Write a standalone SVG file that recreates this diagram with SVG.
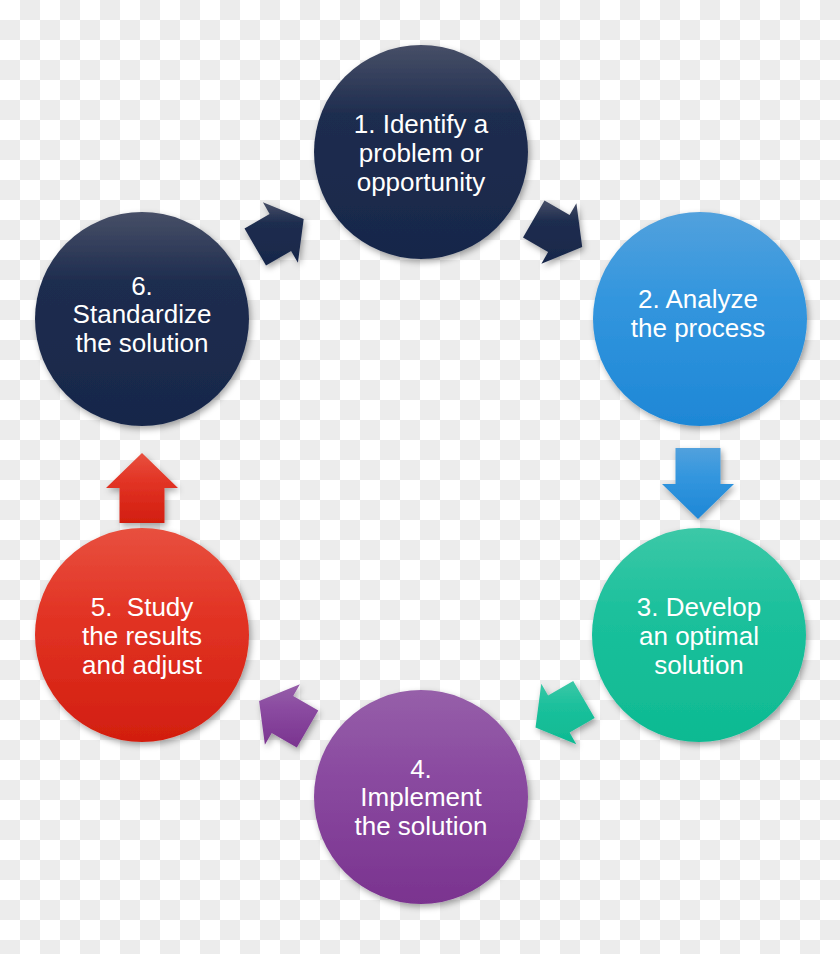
<svg xmlns="http://www.w3.org/2000/svg" width="840" height="954" viewBox="0 0 840 954">
<defs>
<pattern id="checker" width="40" height="40" patternUnits="userSpaceOnUse">
<rect width="40" height="40" fill="#ffffff"/>
<rect x="20" y="0" width="20" height="20" fill="#ececec"/>
<rect x="0" y="20" width="20" height="20" fill="#ececec"/>
</pattern>
<filter id="shadow" x="-20%" y="-20%" width="150%" height="150%">
<feDropShadow dx="2" dy="3" stdDeviation="3" flood-color="#000" flood-opacity="0.35"/>
</filter>
<linearGradient id="gNavy" x1="0" y1="0" x2="0" y2="1">
<stop offset="0" stop-color="#474f67"/>
<stop offset="0.32" stop-color="#1f2d4f"/>
<stop offset="1" stop-color="#17274a"/>
</linearGradient>
<linearGradient id="gBlue" x1="0" y1="0" x2="0" y2="1">
<stop offset="0" stop-color="#52a1dd"/>
<stop offset="0.4" stop-color="#3396de"/>
<stop offset="1" stop-color="#1e87d6"/>
</linearGradient>
<linearGradient id="gTeal" x1="0" y1="0" x2="0" y2="1">
<stop offset="0" stop-color="#3cc8a7"/>
<stop offset="0.4" stop-color="#1bc09c"/>
<stop offset="1" stop-color="#0eba92"/>
</linearGradient>
<linearGradient id="gPurple" x1="0" y1="0" x2="0" y2="1">
<stop offset="0" stop-color="#965fa9"/>
<stop offset="0.4" stop-color="#8a4aa0"/>
<stop offset="1" stop-color="#7a338f"/>
</linearGradient>
<linearGradient id="gRed" x1="0" y1="0" x2="0" y2="1">
<stop offset="0" stop-color="#e8503f"/>
<stop offset="0.4" stop-color="#e23425"/>
<stop offset="1" stop-color="#d21e0f"/>
</linearGradient>
</defs>
<style>
.lbl { font-family: "Liberation Sans", Arial, sans-serif; font-size: 26px; fill: #ffffff; text-anchor: middle; }
.node circle, .arrow { filter: url(#shadow); }
</style>
<rect width="840" height="954" fill="url(#checker)"/>

<g id="connectors">
<polygon class="arrow" fill="url(#gNavy)" points="544.5,200.4 569.6,214.9 576.4,203.2 582.2,247 541.4,263.8 548.1,252.1 523,237.6"/>
<polygon class="arrow" fill="url(#gBlue)" points="675.5,448 720.5,448 720.5,484 734,484 698,519 662,484 675.5,484"/>
<polygon class="arrow" fill="url(#gTeal)" points="594.7,718.1 569.6,732.6 576.3,744.3 535.5,727.5 541.3,683.7 548.1,695.4 573.2,680.9"/>
<polygon class="arrow" fill="url(#gPurple)" points="318.3,710.4 293.2,695.9 299.9,684.2 259.1,701 264.9,744.8 271.7,733.1 296.8,747.6"/>
<polygon class="arrow" fill="url(#gRed)" points="119.5,523 164.5,523 164.5,488 178,488 142,453 106,488 119.5,488"/>
<polygon class="arrow" fill="url(#gNavy)" points="266,265.6 291.1,251.1 297.9,262.8 303.7,219 262.9,202.2 269.6,213.9 244.5,228.4"/>
</g>

<g id="node1" class="node">
<circle cx="421" cy="152" r="107" fill="url(#gNavy)"/>
<text class="lbl" x="421" y="133">1. Identify a</text>
<text class="lbl" x="421" y="162">problem or</text>
<text class="lbl" x="421" y="191">opportunity</text>
</g>
<g id="node2" class="node">
<circle cx="700" cy="319" r="107" fill="url(#gBlue)"/>
<text class="lbl" x="698" y="308">2. Analyze</text>
<text class="lbl" x="698" y="337">the process</text>
</g>
<g id="node3" class="node">
<circle cx="699" cy="635" r="107" fill="url(#gTeal)"/>
<text class="lbl" x="699" y="616">3. Develop</text>
<text class="lbl" x="699" y="645">an optimal</text>
<text class="lbl" x="699" y="674">solution</text>
</g>
<g id="node4" class="node">
<circle cx="421" cy="797" r="107" fill="url(#gPurple)"/>
<text class="lbl" x="421" y="778">4.</text>
<text class="lbl" x="421" y="806">Implement</text>
<text class="lbl" x="421" y="835">the solution</text>
</g>
<g id="node5" class="node">
<circle cx="142" cy="635" r="107" fill="url(#gRed)"/>
<text class="lbl" x="142" y="616" xml:space="preserve">5.  Study</text>
<text class="lbl" x="142" y="645">the results</text>
<text class="lbl" x="142" y="674">and adjust</text>
</g>
<g id="node6" class="node">
<circle cx="142" cy="319" r="107" fill="url(#gNavy)"/>
<text class="lbl" x="142" y="295">6.</text>
<text class="lbl" x="142" y="323">Standardize</text>
<text class="lbl" x="142" y="352">the solution</text>
</g>
</svg>
